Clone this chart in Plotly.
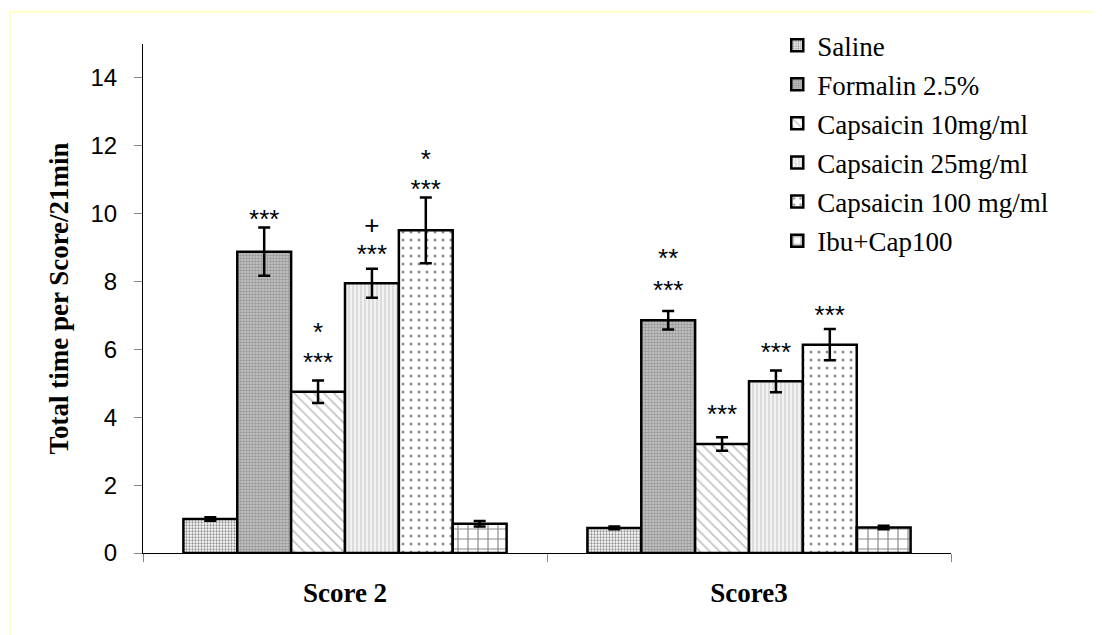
import plotly.graph_objects as go

categories = ["Score 2", "Score3"]
series_names = ["Saline", "Formalin 2.5%", "Capsaicin 10mg/ml",
                "Capsaicin 25mg/ml", "Capsaicin 100 mg/ml", "Ibu+Cap100"]

saline = [1.0, 0.74]
formalin = [8.88, 6.86]
cap10 = [4.75, 3.21]
cap25 = [7.95, 5.06]
cap100 = [9.51, 6.14]
ibu_cap = [0.86, 0.75]

saline_err = [0.05, 0.04]
formalin_err = [0.71, 0.27]
cap10_err = [0.33, 0.20]
cap25_err = [0.43, 0.32]
cap100_err = [0.97, 0.46]
ibu_cap_err = [0.08, 0.05]

# significance labels (lower line, upper line) per series for [Score 2, Score3]
sig_lower_text = [["", ""], ["***", "***"], ["***", "***"], ["***", "***"], ["***", "***"], ["", ""]]
sig_lower_y = [[None, None], [9.76, 7.67], [5.55, 4.02], [8.74, 5.84], [10.66, 6.93], [None, None]]
sig_upper_text = [["", ""], ["", "**"], ["*", ""], ["+", ""], ["*", ""], ["", ""]]
sig_upper_y = [[None, None], [None, 8.61], [6.45, None], [9.59, None], [11.54, None], [None, None]]

values = [saline, formalin, cap10, cap25, cap100, ibu_cap]
errors = [saline_err, formalin_err, cap10_err, cap25_err, cap100_err, ibu_cap_err]

patterns = [
    dict(shape=".", size=3, solidity=0.45, fgcolor="#222222", bgcolor="#ffffff"),
    dict(shape=".", size=3, solidity=0.55, fgcolor="#6a6a6a", bgcolor="#c8c8c8"),
    dict(shape="\\", size=7, solidity=0.25, fgcolor="#8a8a8a", bgcolor="#ffffff"),
    dict(shape="|", size=4, solidity=0.3, fgcolor="#a8a8a8", bgcolor="#f2f2f2"),
    dict(shape=".", size=8, solidity=0.12, fgcolor="#222222", bgcolor="#ffffff"),
    dict(shape="+", size=10, solidity=0.22, fgcolor="#111111", bgcolor="#ffffff"),
]

serif = "Liberation Serif, Times New Roman, serif"
sans = "Liberation Sans, Arial, sans-serif"

fig = go.Figure()
for k, name in enumerate(series_names):
    fig.add_trace(go.Bar(
        name=name, x=categories, y=values[k],
        offsetgroup=str(k), legendgroup=str(k),
        marker=dict(color="white", line=dict(color="black", width=2.5), pattern=patterns[k]),
        error_y=dict(type="data", array=errors[k], visible=True, color="black", thickness=2.5, width=6),
    ))

for k, name in enumerate(series_names):
    fig.add_trace(go.Scatter(
        x=categories + categories,
        y=sig_lower_y[k] + sig_upper_y[k],
        text=sig_lower_text[k] + sig_upper_text[k],
        mode="text", textposition="middle center",
        textfont=dict(family=sans, size=26, color="black"),
        offsetgroup=str(k), showlegend=False, hoverinfo="skip",
    ))

fig.update_layout(
    width=1102, height=635,
    margin=dict(l=135, r=159, t=36, b=90, autoexpand=False),
    paper_bgcolor="white", plot_bgcolor="white",
    barmode="group", bargap=0.2, bargroupgap=0,
    scattermode="group", scattergap=0.2,
    showlegend=True,
    legend=dict(x=0.785, y=1.045, xanchor="left", yanchor="top",
                font=dict(family=serif, size=27, color="black"),
                bgcolor="rgba(0,0,0,0)", traceorder="grouped", tracegroupgap=1,
                itemwidth=30),
    xaxis=dict(showline=True, linecolor="black", linewidth=1, showgrid=False,
               ticks="outside", tickson="boundaries", ticklen=8, tickcolor="#888888",
               tickfont=dict(family=serif, size=27, color="black", weight="bold"),
               ticklabelstandoff=16, zeroline=False, automargin=False),
    yaxis=dict(range=[0, 15], tickvals=[0, 2, 4, 6, 8, 10, 12, 14],
               showline=True, linecolor="black", linewidth=1, showgrid=False,
               ticks="outside", ticklen=8, tickcolor="#888888",
               tickfont=dict(family=sans, size=24, color="black"),
               ticklabelstandoff=12, zeroline=False, automargin=False,
               title=dict(text="Total time per Score/21min",
                          font=dict(family=serif, size=27, color="black", weight="bold"),
                          standoff=14)),
    shapes=[dict(type="rect", xref="paper", yref="paper",
                 x0=-0.1646, y0=-0.5, x1=1.6, y1=1.0635,
                 line=dict(color="#FFFFC4", width=2), fillcolor="rgba(0,0,0,0)", layer="below")],
)

fig.write_html("out.html")
